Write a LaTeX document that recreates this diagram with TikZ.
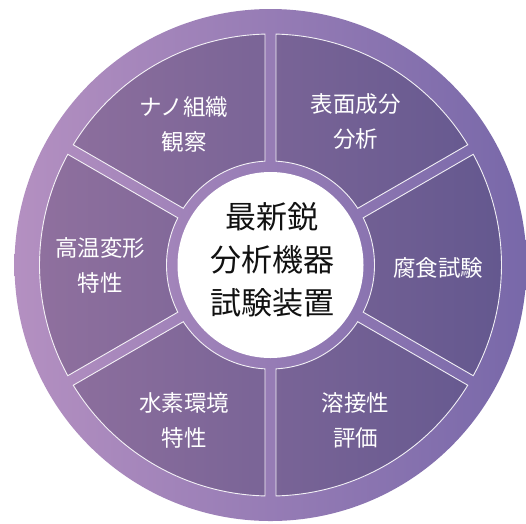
\documentclass[tikz,border=0pt]{standalone}
\usepackage{fontspec}
\setmainfont{Noto Sans CJK JP}
\usetikzlibrary{calc}
\definecolor{ringL}{HTML}{B490C1}
\definecolor{ringR}{HTML}{7868A9}
\definecolor{segL}{HTML}{8F709E}
\definecolor{segR}{HTML}{64588F}
\definecolor{ctext}{HTML}{111111}
\tikzset{
  lab/.style={text=white, align=center, inner sep=0pt, font=\fontsize{22.5}{35}\selectfont},
  ctr/.style={text=ctext, align=center, inner sep=0pt, font=\fontsize{31}{43}\selectfont},
  segline/.style={draw=white, line width=0.9pt, draw opacity=0.9},
}
\newcommand\mysegpath[2]{($(O)+(#1+1.364:231pt)$) arc[start angle=#1+1.364, end angle=#2-1.364, radius=231pt] -- ($(O)+(#2-3.03:104pt)$) arc[start angle=#2-3.03, end angle=#1+3.03, radius=104pt] -- cycle}
\begin{document}
\begin{tikzpicture}[x=1pt,y=-1pt]
\useasboundingbox (0,0) rectangle (526,523);
\clip (0,0) rectangle (526,523);
\coordinate (O) at (270.5,265);
\begin{scope}
  \clip (O) circle[radius=256pt];
  \shade[left color=ringL, right color=ringR] (14,8) rectangle (527,522);
\end{scope}
\foreach \k in {0,...,5} {
  \pgfmathsetmacro\sa{-30+60*\k}
  \pgfmathsetmacro\sb{30+60*\k}
  \begin{scope}
    \clip \mysegpath{\sa}{\sb};
    \shade[left color=segL, right color=segR] (39,33) rectangle (502,497);
  \end{scope}
  \draw[segline] \mysegpath{\sa}{\sb};
}
\fill[white] (O) circle[radius=93pt];
\node[ctr] (center) at (272,260) {最新鋭\\分析機器\\試験装置};
\node[lab] (nano) at (184,124.5) {ナノ組織\\観察};
\node[lab] (hyomen) at (355.5,121) {表面成分\\分析};
\node[lab] (fushoku) at (438,268) {腐食試験};
\node[lab] (koon) at (100,265) {高温変形\\特性};
\node[lab] (suiso) at (184,420) {水素環境\\特性};
\node[lab] (yosetsu) at (355.5,420) {溶接性\\評価};
\end{tikzpicture}
\end{document}
